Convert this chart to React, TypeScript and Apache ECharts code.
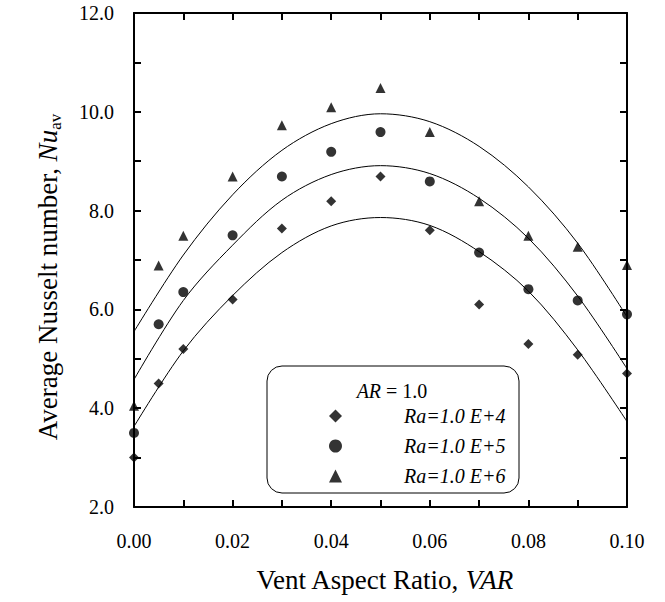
import React, { useEffect, useRef } from "react";
import * as echarts from "echarts";

// Measured points (Vent Aspect Ratio vs Average Nusselt number)
const xValues = [0, 0.005, 0.01, 0.02, 0.03, 0.04, 0.05, 0.06, 0.07, 0.08, 0.09, 0.1];
const ra4 = [3.0, 4.5, 5.2, 6.2, 7.64, 8.19, 8.69, 7.6, 6.1, 5.3, 5.08, 4.7];
const ra5 = [3.5, 5.7, 6.35, 7.5, 8.69, 9.19, 9.59, 8.59, 7.15, 6.41, 6.18, 5.9];
const ra6 = [4.05, 6.89, 7.49, 8.69, 9.73, 10.09, 10.48, 9.59, 8.19, 7.49, 7.27, 6.9];

// Fitted curves
const fitX = [0, 0.01, 0.02, 0.03, 0.04, 0.05, 0.06, 0.07, 0.08, 0.09, 0.1];
const fit4 = [3.63, 5.16, 6.28, 7.15, 7.69, 7.86, 7.7, 7.17, 6.37, 5.18, 3.73];
const fit5 = [4.58, 6.18, 7.3, 8.21, 8.73, 8.91, 8.75, 8.25, 7.44, 6.27, 4.8];
const fit6 = [5.55, 7.1, 8.32, 9.22, 9.76, 9.96, 9.8, 9.3, 8.48, 7.34, 5.85];

const seriesNames = ["Ra=1.0 E+4", "Ra=1.0 E+5", "Ra=1.0 E+6"];
const symbols = ["diamond", "circle", "triangle"];

const FONT = "'Liberation Serif', 'Times New Roman', 'DejaVu Serif', serif";

export default function App() {
  const ref = useRef<HTMLDivElement>(null);
  useEffect(() => {
    if (!ref.current) return;
    const chart = echarts.init(ref.current, undefined, { renderer: "svg" });
    const pts = [ra4, ra5, ra6];
    const fits = [fit4, fit5, fit6];
    const axisCommon = {
      axisLine: { show: true, onZero: false, lineStyle: { color: "#000", width: 2 } },
      axisTick: { show: true, inside: true, length: 7, lineStyle: { color: "#000", width: 2 } },
      splitLine: { show: false },
    };
    chart.setOption({
      animation: false,
      backgroundColor: "#fff",
      textStyle: { fontFamily: FONT, color: "#000" },
      grid: { left: 134, right: 38, top: 13, bottom: 95 },
      xAxis: [
        {
          type: "value",
          min: 0,
          max: 0.1,
          interval: 0.01,
          position: "bottom",
          ...axisCommon,
          axisLabel: {
            margin: 24,
            fontSize: 20,
            fontFamily: FONT,
            color: "#000",
            formatter: (v: number) => (Math.round(v * 100) % 2 === 0 ? v.toFixed(2) : ""),
          },
          name: "Vent Aspect Ratio, {i|VAR}",
          nameLocation: "middle",
          nameGap: 59,
          nameTextStyle: {
            fontSize: 27,
            fontFamily: FONT,
            color: "#000",
            padding: [0, 0, 0, 8],
            rich: { i: { fontSize: 27, fontFamily: FONT, fontStyle: "italic", color: "#000" } },
          },
        },
        {
          type: "value",
          min: 0,
          max: 0.1,
          interval: 0.01,
          position: "top",
          ...axisCommon,
          axisLabel: { show: false },
        },
      ],
      yAxis: [
        {
          type: "value",
          min: 2,
          max: 12,
          interval: 1,
          position: "left",
          ...axisCommon,
          axisLabel: {
            margin: 20,
            fontSize: 20,
            fontFamily: FONT,
            color: "#000",
            formatter: (v: number) => (Math.round(v) % 2 === 0 ? v.toFixed(1) : ""),
          },
          name: "Average Nusselt number, {i|Nu}{s|av}",
          nameLocation: "middle",
          nameGap: 70,
          nameTextStyle: {
            fontSize: 27,
            fontFamily: FONT,
            color: "#000",
            lineHeight: 32,
            padding: [0, 34, 0, 0],
            rich: {
              i: { fontSize: 27, fontFamily: FONT, fontStyle: "italic", color: "#000", lineHeight: 32 },
              s: { fontSize: 17, fontFamily: FONT, color: "#000", verticalAlign: "bottom", lineHeight: 32 },
            },
          },
        },
        {
          type: "value",
          min: 2,
          max: 12,
          interval: 1,
          position: "right",
          ...axisCommon,
          axisLabel: { show: false },
        },
      ],
      legend: {
        data: seriesNames,
        orient: "vertical",
        left: 329,
        top: 406,
        padding: 0,
        itemWidth: 13,
        itemHeight: 13,
        itemGap: 10,
        selectedMode: false,
        textStyle: {
          fontFamily: FONT,
          fontSize: 20,
          fontStyle: "italic",
          color: "#000",
          lineHeight: 20,
          padding: [0, 0, 0, 57],
        },
      },
      graphic: [
        {
          type: "rect",
          shape: { x: 267, y: 366, width: 252, height: 127, r: 15 },
          style: { fill: "none", stroke: "#000", lineWidth: 1 },
          z: 10,
        },
        {
          type: "text",
          x: 392,
          y: 391,
          z: 10,
          style: {
            text: "{i|AR} = 1.0",
            fontFamily: FONT,
            fontSize: 20,
            fill: "#000",
            align: "center",
            verticalAlign: "middle",
            rich: { i: { fontFamily: FONT, fontSize: 20, fontStyle: "italic", fill: "#000" } },
          },
        },
      ],
      series: [
        ...fits.map((f, k) => ({
          type: "line",
          name: "fit" + k,
          data: fitX.map((x, i) => [x, f[i]]),
          smooth: 0.33,
          showSymbol: false,
          symbol: "none",
          lineStyle: { color: "#000", width: 1 },
          silent: true,
          z: 3,
        })),
        ...pts.map((p, k) => ({
          type: "scatter",
          name: seriesNames[k],
          data: xValues.map((x, i) => [x, p[i]]),
          symbol: symbols[k],
          symbolSize: 10,
          clip: false,
          itemStyle: { color: "#000" },
          z: 4,
        })),
      ],
    });
    return () => chart.dispose();
  }, []);
  return (
    <div
      ref={ref}
      style={{ position: "fixed", left: 0, top: 0, width: 665, height: 602, background: "#fff" }}
    />
  );
}
